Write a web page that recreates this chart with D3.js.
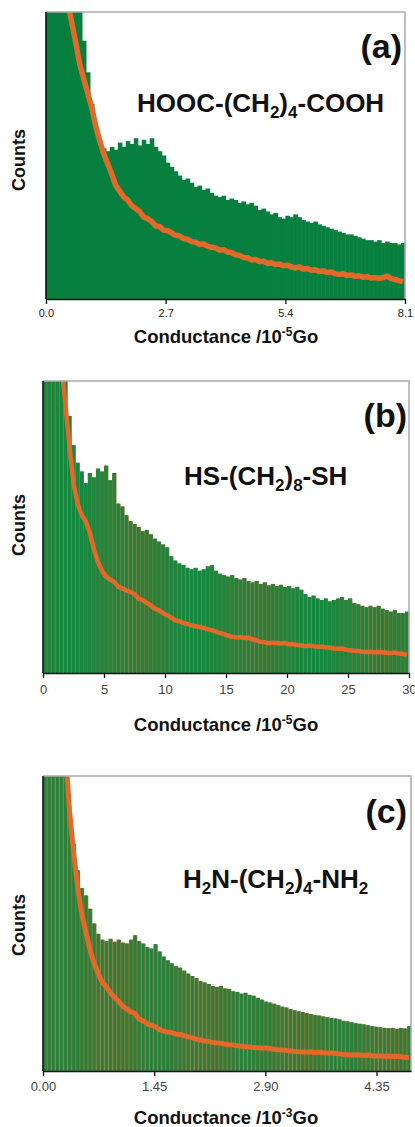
<!DOCTYPE html>
<html>
<head>
<meta charset="utf-8">
<script src="https://cdn.jsdelivr.net/npm/d3@7/dist/d3.min.js"></script>
<style>
body { margin: 0; background: #fff; }
text { font-family: "Liberation Sans", Arial, sans-serif; }
</style>
</head>
<body>
<div id="chart"></div>
<script>
// counts in % of plot height (values > 100 run off the top and are clipped)
var greenA = [120,120,120,120,120,120,120,120,105,90,79,68,60,55,52.5,
  51.5,53,52,54.5,53,55, 54,56,53.5,55.5,54,56, 53,51.5,50,47.5,
  46,44.5,43,41.5, 42,40.5,39,39.5, 38,38.5,37,36,35.5, 36,34.5,35,34.5,
  33.5,34,33,33.5, 32.5,31,31.5,30.5, 29.5,30,28.5,28, 29,28.5,29.5,28.5,
  27.5,27,26.5,27,26, 25.5,25,24.5,24, 23.5,23,22.5,22.5, 22,21.5,21,20.5,
  20.5,20,20.5,19.5, 20,19.5,19.5,19,19.5];
var orangeA = [160,145,130,118,109,103,96,89,81.5,76.5,71.5,66.5,60,55,50.5,
  47,43.5,39.5,37.5,35.5,34.5,32.5,31.5,30.5,28.5,28,27,25.5,25.2,24,
  23.8,23,22.2,22,21,20.8,20,19.8,19,19.2,18.4,18,17.8,17,17.2,
  16.4,16.2,15.4,15.2,14.5,14.4,13.6,13.8,13,13.2,12.4,12.6,12,12.2,11.6,
  11.8,11.2,10.8,11.2,10.4,10.6,10,10.2,9.6,9.8,9.2,9.4,8.8,8.6,8.8,
  8.2,8.4,7.9,8.1,7.6,7.8,7.3,7.5,7.2,7.4,8,7.1,6.8,6.4,6];
var ticksA = [0, 2.7, 5.4, 8.1];

var greenB = [130,130,125,120,112,103,88,78,72,69,65,68.5,67,70,69,
  71,66,68.5,58,57,54,52,51,50,48.5,49,47.5,46,45,44,
  43,40,38.5,37.5,37,36,35.5,36,35,35.5,36.5,37,35,34,33.5,
  33,33.5,32.5,32,32.5,31.5,31,31.5,30.5,31,30,30.5,29.8,30.2,29.5,
  29.8,29,29.5,28.5,27,26,26.5,25.5,25,25.5,24.5,25,25.5,26,25,
  25.5,24,23.5,23,22.5,23,22.5,23,22,21.5,21,21.5,20.5,20.5,21];
var orangeB = [170,150,135,120,106,92,78,65,58,54,52,48,42.5,38,35,
  33,32,31.2,29.5,29,28.2,27.8,27,25.5,25,24,23.2,22,21.5,20.5,
  19.8,19,18,17.8,17.1,16.8,16.3,16,15.8,15.4,15,14.7,14.2,13.7,13.3,
  12.8,12.4,12.2,12.3,12,12.1,11.5,11.2,10.6,10.5,10.2,10.4,10.3,10.1,10.3,
  9.8,9.9,9.6,9.5,9.2,9.4,9.2,9.1,9,8.8,8.7,8.4,8.3,8.4,8,
  7.8,7.6,7.5,7.3,7.2,7.3,7.1,7.2,7.1,6.9,6.8,7,6.7,6.5,6.2];
var ticksB = [0, 5, 10, 15, 20, 25, 30];

var greenC = [130,130,130,125,118,108,88,77,68,62,59.5,55,50,46.5,44.5,
  44,44.8,43.8,44.5,43.5,43.2,44.5,46,44,43.2,42,41.5,43,40.5,38.8,
  37.5,36.5,35.5,35,34,33,32.2,31.5,30.5,30,29.5,28.8,28.5,28.8,28,
  27.8,27,26.8,26.2,26.5,25.8,25.5,24.8,24.2,23.5,23.2,22.8,22.3,21.8,21.5,
  21,20.6,20.2,20,19.6,19.3,19,18.8,18.5,18.2,18,17.8,17.5,17,16.8,
  16.5,16.2,16,15.8,15.5,15.2,15,14.8,14.6,14.5,14.6,14.3,14.6,14.4,15.2];
var orangeC = [180,165,150,135,122,108,88,74,62,53,47,41,36.5,33,30,
  28.5,26.5,25,23.5,22,21,20,19.5,17.5,17,16,15.5,15,14,13.5,
  13.2,13,12.5,12.4,12,11.6,11.2,10.8,10.5,10.2,10,9.7,9.5,9.4,9.1,
  8.9,8.8,8.6,8.4,8.2,8.1,8,7.9,7.8,7.8,7.6,7.4,7.2,7.1,7,
  6.8,6.6,6.5,6.4,6.4,6.5,6.3,6.4,6.2,6.1,6.1,6,5.8,5.6,5.5,
  5.4,5.5,5.4,5.3,5.4,5.2,5.1,5.1,5,5.1,4.9,5,4.8,4.7,4.7];
var ticksC = [0, 1.45, 2.90, 4.35];

var formulaA = [["HOOC-(CH", 0], ["2", 1], [")", 0], ["4", 1], ["-COOH", 0]];
var formulaB = [["HS-(CH", 0], ["2", 1], [")", 0], ["8", 1], ["-SH", 0]];
var formulaC = [["H", 0], ["2", 1], ["N-(CH", 0], ["2", 1], [")", 0], ["4", 1], ["-NH", 0], ["2", 1]];

var panels = [
  {green: greenA, orange: orangeA, ticks: ticksA, fmt: ".1f", domain: [0, 8.1], label: "(a)", formula: formulaA, exp: "-5",
   left: 46, right: 405, top: 12, bottom: 299, color: "#077f3e", gap: 0, tickFont: 11, tickPad: 5, tickColor: "#222",
   lineW: 5.5, fx: 137, fy: 112, lx: 402, ly: 58, ty: 343, cy: 160},
  {green: greenB, orange: orangeB, ticks: ticksB, fmt: "d", domain: [0, 30], label: "(b)", formula: formulaB, exp: "-5",
   left: 43, right: 409, top: 381, bottom: 673, color: "#15893f", gap: 0.8, tickFont: 13, tickPad: 7, tickColor: "#444",
   lineW: 4.5, fx: 184, fy: 485, lx: 407, ly: 427, ty: 731, cy: 525},
  {green: greenC, orange: orangeC, ticks: ticksC, fmt: ".2f", domain: [0, 4.8], label: "(c)", formula: formulaC, exp: "-3",
   left: 43, right: 411, top: 776, bottom: 1071, color: "#17893f", gap: 1.5, tickFont: 13, tickPad: 6, tickColor: "#444",
   lineW: 5, fx: 183, fy: 888, lx: 407, ly: 823, ty: 1124, cy: 925}
];

var svg = d3.select("#chart").append("svg")
    .attr("width", 415)
    .attr("height", 1127);

panels.forEach(function(p, k) {
  var x = d3.scaleLinear().domain(p.domain).range([p.left, p.right]);
  var y = d3.scaleLinear().domain([0, 100]).range([p.bottom, p.top]);
  var bw = (p.domain[1] - p.domain[0]) / p.green.length;
  var pxw = x(bw) - x(0);

  svg.append("clipPath").attr("id", "clip" + k)
    .append("rect")
      .attr("x", p.left).attr("y", p.top)
      .attr("width", p.right - p.left).attr("height", p.bottom - p.top);

  var plot = svg.append("g").attr("clip-path", "url(#clip" + k + ")");

  // brownish stripes that show between the bars in (b) and (c)
  if (p.gap > 0) {
    plot.selectAll(".under")
        .data(p.green)
      .enter().append("rect")
        .attr("x", function(d, i) { return x(i * bw); })
        .attr("width", pxw + 0.3)
        .attr("y", function(d) { return y(d); })
        .attr("height", function(d) { return p.bottom - y(d); })
        .style("fill", "#8f6b34");
  }

  plot.selectAll(".bar")
      .data(p.green)
    .enter().append("rect")
      .attr("x", function(d, i) { return x(i * bw) + p.gap / 2; })
      .attr("width", p.gap > 0 ? pxw - p.gap : pxw + 0.6)
      .attr("y", function(d) { return y(d); })
      .attr("height", function(d) { return p.bottom - y(d); })
      .style("fill", p.color);

  var line = d3.line()
      .x(function(d, i) { return x((i + 0.5) * bw); })
      .y(function(d) { return y(d); });

  plot.append("path")
      .datum(p.orange)
      .attr("d", line)
      .style("fill", "none")
      .style("stroke", "#e2692a")
      .style("stroke-width", p.lineW)
      .style("stroke-linejoin", "round");

  // frame
  svg.append("path")
      .attr("d", "M" + p.left + "," + p.top + "H" + p.right + "V" + p.bottom)
      .style("fill", "none").style("stroke", "#aaa").style("stroke-width", 1.5);
  svg.append("line")
      .attr("x1", p.left).attr("x2", p.left)
      .attr("y1", p.top).attr("y2", p.bottom)
      .style("stroke", "#111").style("stroke-width", 1.6);

  var ax = svg.append("g")
      .attr("transform", "translate(0," + p.bottom + ")")
      .call(d3.axisBottom(x).tickValues(p.ticks).tickFormat(d3.format(p.fmt))
            .tickSize(5).tickSizeOuter(0).tickPadding(p.tickPad));
  ax.select(".domain").style("stroke", "#111").style("stroke-width", 1.6);
  ax.selectAll(".tick line").style("stroke", "#111").style("stroke-width", 1.3);
  ax.selectAll(".tick text")
      .style("font-size", p.tickFont + "px")
      .style("font-family", "'Liberation Sans', Arial, sans-serif")
      .style("fill", p.tickColor);

  // x title
  var t = svg.append("text")
      .attr("x", 226).attr("y", p.ty)
      .style("text-anchor", "middle")
      .style("font-size", "18.5px").style("font-weight", "bold").style("fill", "#111");
  t.append("tspan").text("Conductance /10");
  t.append("tspan").attr("dy", -7).style("font-size", "12px").text(p.exp);
  t.append("tspan").attr("dy", 7).text("Go");

  // y title
  svg.append("text")
      .attr("transform", "translate(" + 25 + "," + p.cy + ") rotate(-90)")
      .style("text-anchor", "middle")
      .style("font-size", "18px").style("font-weight", "bold").style("fill", "#111")
      .text("Counts");

  // panel letter
  svg.append("text")
      .attr("x", p.lx).attr("y", p.ly)
      .style("text-anchor", "end")
      .style("font-size", "34px").style("font-weight", "bold").style("fill", "#111")
      .text(p.label);

  // molecule formula
  var f = svg.append("text")
      .attr("x", p.fx).attr("y", p.fy)
      .style("font-size", "26px").style("font-weight", "bold").style("fill", "#111");
  var shift = 0;
  p.formula.forEach(function(s) {
    var want = s[1] ? 6 : 0;
    f.append("tspan")
        .attr("dy", want - shift)
        .style("font-size", s[1] ? "17px" : "26px")
        .text(s[0]);
    shift = want;
  });
});
</script>
</body>
</html>
